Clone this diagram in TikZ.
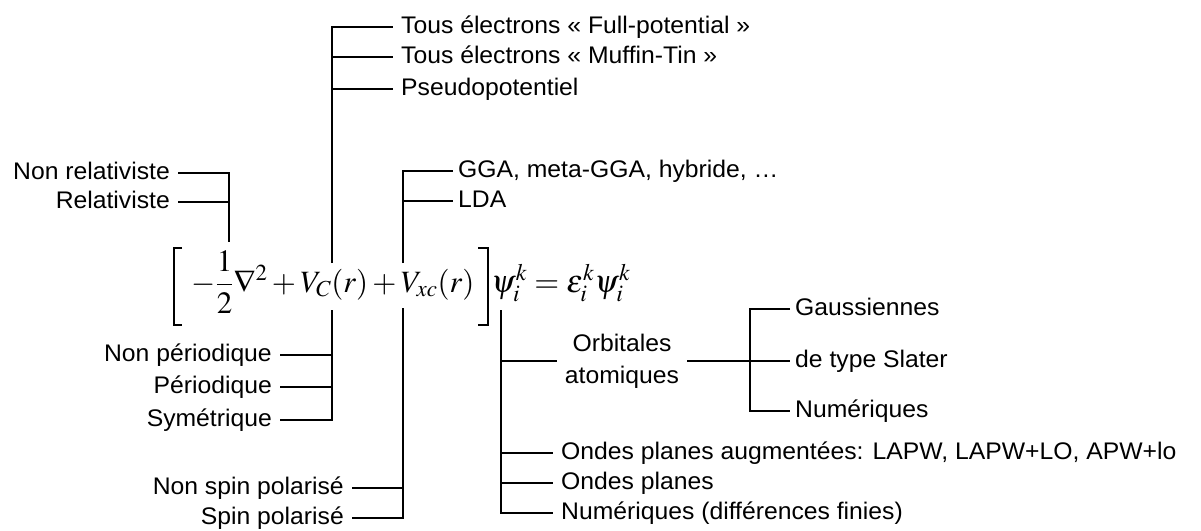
\documentclass[tikz,border=0pt]{standalone}
\usepackage{amsmath}
\usepackage{mathptmx}
\usepackage[no-math]{fontspec}
\setmainfont{Liberation Sans}[FakeStretch=1.03]

\tikzset{
  lblbase/.style={font=\fontsize{24}{32}\selectfont, inner xsep=8pt, inner ysep=0pt},
  lbl/.style={lblbase, text height=17pt, text depth=5pt},
  lbll/.style={lbl, anchor=east},
  lblr/.style={lbl, anchor=west},
  tree/.style={line width=1.4pt},
  bracket/.style={line width=1.8pt},
  eqn/.style={font=\fontsize{32}{36}\selectfont, inner sep=0pt}
}

\begin{document}
\begin{tikzpicture}[x=1pt,y=-1pt]
\useasboundingbox (0,0) rectangle (1201,530);

% equation
\node[eqn, font=\fontsize{31}{36}\selectfont, anchor=base] (ham) at (333,292) {$-\dfrac{1}{2}\nabla^2+V_C(r)+V_{xc}(r)$};
\node[eqn, anchor=base west] (eig) at (491,292) {$\psi_i^k=\varepsilon_i^k\psi_i^k$};
\draw[bracket] (182,248) -- (174,248) -- (174,325) -- (182,325);
\draw[bracket] (478,248) -- (488,248) -- (488,325) -- (478,325);

\coordinate (kin) at (229,242);
\coordinate (potup) at (332,263);
\coordinate (potdn) at (332,310);
\coordinate (xcup) at (403,263);
\coordinate (xcdn) at (403,308);
\coordinate (basis) at (501,310);
\coordinate (orbj) at (750,361);

% labels
\node[lbll] (nrel) at (178,173) {Non relativiste};
\node[lbll] (rel) at (178,202) {Relativiste};
\node[lblr] (fp) at (393,27) {Tous électrons « Full-potential »};
\node[lblr] (mt) at (393,57) {Tous électrons « Muffin-Tin »};
\node[lblr] (pp) at (393,89) {Pseudopotentiel};
\node[lblr, inner xsep=5pt] (gga) at (453,171) {GGA, meta-GGA, hybride, …};
\node[lblr, inner xsep=5pt] (lda) at (453,201) {LDA};
\node[lbll] (np) at (280,355) {Non périodique};
\node[lbll] (per) at (280,387) {Périodique};
\node[lbll] (sym) at (280,420) {Symétrique};
\node[lbll] (nsp) at (352,488) {Non spin polarisé};
\node[lbll] (sp) at (352,518) {Spin polarisé};
\node[lblbase, align=center] (orb) at (622,361) {Orbitales\\atomiques};
\node[lblr, inner xsep=5pt] (gau) at (790,309) {Gaussiennes};
\node[lblr, inner xsep=5pt] (sla) at (790,361) {de type Slater};
\node[lblr, inner xsep=5pt] (num) at (790,411) {Numériques};
\node[lblr] (opa) at (553,453) {Ondes planes augmentées: LAPW, LAPW+LO, APW+lo};
\node[lblr] (op) at (553,483) {Ondes planes};
\node[lblr] (numdf) at (553,513) {Numériques (différences finies)};

% tree lines
\draw[tree] (nrel.east) -| (kin);
\draw[tree] (rel.east) -- (rel.east -| kin);
\draw[tree] (potup) |- (fp.west);
\draw[tree] (mt.west -| potup) -- (mt.west);
\draw[tree] (pp.west -| potup) -- (pp.west);
\draw[tree] (xcup) |- (gga.west);
\draw[tree] (lda.west -| xcup) -- (lda.west);
\draw[tree] (potdn) |- (sym.east);
\draw[tree] (np.east) -- (np.east -| potdn);
\draw[tree] (per.east) -- (per.east -| potdn);
\draw[tree] (xcdn) |- (sp.east);
\draw[tree] (nsp.east) -- (nsp.east -| xcdn);
\draw[tree] (basis) |- (numdf.west);
\draw[tree] (orb.west -| basis) -- (orb.west);
\draw[tree] (opa.west -| basis) -- (opa.west);
\draw[tree] (op.west -| basis) -- (op.west);
\draw[tree] (orb.east) -- (sla.west);
\draw[tree] (gau.west) -| (orbj) |- (num.west);
\end{tikzpicture}
\end{document}
